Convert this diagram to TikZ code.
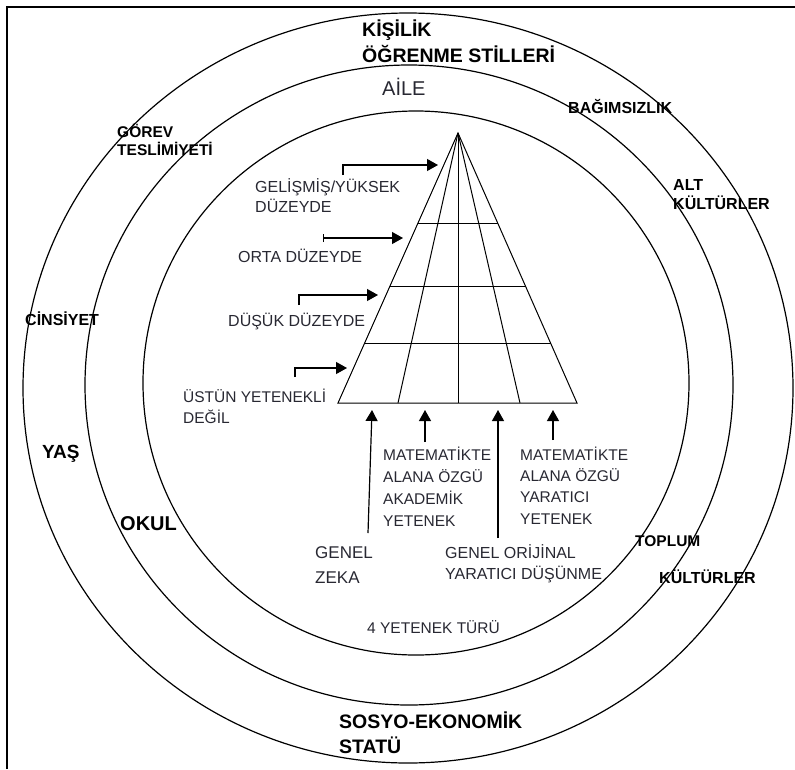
\documentclass[tikz,border=0pt]{standalone}
\usepackage{fontspec}
\setmainfont{Liberation Sans}
\usetikzlibrary{arrows.meta,calc}
\definecolor{txt}{RGB}{40,40,50}
\begin{document}
\begin{tikzpicture}[x=1pt,y=-1pt,>={Stealth[inset=0pt,length=11pt,width=12pt]},
	ring/.style={line width=1.2pt},
	lbl/.style={anchor=base west,inner sep=0pt,align=left},
	bl/.style 2 args={lbl,font=\bfseries\fontsize{#1}{#2}\selectfont},
	rl/.style 2 args={lbl,text=txt,font=\fontsize{#1}{#2}\selectfont}]
	\useasboundingbox (0,0) rectangle (795,769);
	% frame
	\draw[line width=1.5pt] (7,769) -- (7,7) -- (795,7);
	% rings
	\draw[ring] (408,388) ellipse [x radius=385,y radius=375];
	\draw[ring] (409,385) ellipse [x radius=324,y radius=320];
	\draw[ring] (416,383) ellipse [x radius=273,y radius=272];
	% outer labels (base = last line)
	\node[bl={19.5}{26}] (kisilik) at (362,62) {KİŞİLİK\\ÖĞRENME STİLLERİ};
	\node[rl={20}{22}] (aile) at (382,95) {AİLE};
	\node[bl={15.5}{18}] (gorev) at (117,155) {GÖREV\\TESLİMİYETİ};
	\node[bl={16}{18}] (bagim) at (568,113) {BAĞIMSIZLIK};
	\node[bl={16}{19}] (altk) at (673,209) {ALT\\KÜLTÜRLER};
	\node[bl={16}{18}] (cins) at (25,325) {CİNSİYET};
	\node[bl={19}{20}] (yas) at (42,458) {YAŞ};
	\node[bl={20}{22}] (okul) at (120,530) {OKUL};
	\node[bl={15.5}{18}] (toplum) at (635,546) {TOPLUM};
	\node[bl={16}{18}] (kultur) at (659,583) {KÜLTÜRLER};
	\node[bl={19.5}{25}] (sosyo) at (339,753) {SOSYO-EKONOMİK\\STATÜ};
	% pyramid
	\coordinate (apex) at (458,133);
	\coordinate (pl) at (338,403);
	\coordinate (pr) at (577,403);
	\draw[line width=1pt] (pl) -- (apex) -- (pr) -- cycle;
	\foreach \x in {398,458,520}
	\draw[line width=1pt] (apex) -- (\x,403);
	\foreach \t in {0.337,0.567,0.778}
	\draw[line width=1pt] ($(apex)!\t!(pl)$) -- ($(apex)!\t!(pr)$);
	% level labels
	\node[rl={16}{20}] (yuksek) at (255,212) {GELİŞMİŞ/YÜKSEK\\DÜZEYDE};
	\node[rl={16}{20}] (orta) at (238,262) {ORTA DÜZEYDE};
	\node[rl={16}{20}] (dusuk) at (228,326) {DÜŞÜK DÜZEYDE};
	\node[rl={15.5}{21}] (ustun) at (183,423) {ÜSTÜN YETENEKLİ\\DEĞİL};
	\coordinate (s1) at (343,175); \coordinate (e1) at (438,165);
	\coordinate (s2) at (323,238); \coordinate (e2) at (403,238);
	\coordinate (s3) at (299,305); \coordinate (e3) at (378,295);
	\coordinate (s4) at (295,377); \coordinate (e4) at (347,368);
	\draw[->,line width=1.2pt] (s1) |- (e1);
	\draw[{Bar[width=8pt]}->,line width=1.2pt] (s2) -- (e2);
	\draw[->,line width=1.2pt] (s3) |- (e3);
	\draw[->,line width=1.2pt] (s4) |- (e4);
	% ability labels
	\node[rl={15.5}{21.7}] (akad) at (383,526) {MATEMATİKTE\\ALANA ÖZGÜ\\AKADEMİK\\YETENEK};
	\node[rl={15.5}{21.3}] (yarat) at (520,524) {MATEMATİKTE\\ALANA ÖZGÜ\\YARATICI\\YETENEK};
	\node[rl={17}{25}] (zeka) at (315,583) {GENEL\\ZEKA};
	\node[rl={16}{21}] (orij) at (445,579) {GENEL ORİJİNAL\\YARATICI DÜŞÜNME};
	\node[rl={15.5}{18}] (tur) at (367,633) {4 YETENEK TÜRÜ};
	\coordinate (a1) at (368,533); \coordinate (b1) at (372,410);
	\coordinate (a2) at (425,442); \coordinate (b2) at (425,410);
	\coordinate (a3) at (498,538); \coordinate (b3) at (498,410);
	\coordinate (a4) at (553,440); \coordinate (b4) at (553,410);
	\foreach \i in {1,...,4}
	\draw[->,line width=1.2pt] (a\i) -- (b\i);
\end{tikzpicture}
\end{document}
